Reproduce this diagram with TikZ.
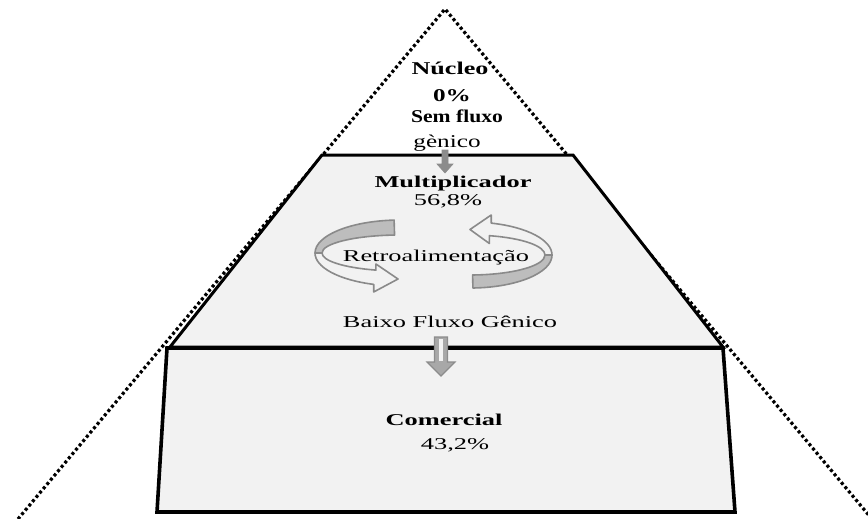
\documentclass[tikz,border=0pt]{standalone}
\usepackage{fontspec}
\setmainfont{Liberation Serif}
\newcommand{\strx}[2]{\scalebox{#1}[1]{#2}}
\definecolor{tierfill}{HTML}{F2F2F2}
\definecolor{bandgray}{HTML}{BDBDBD}
\definecolor{bandedge}{HTML}{8A8A8A}
\definecolor{arrowgray}{HTML}{8C8C8C}
\definecolor{arrowlight}{HTML}{A8A8A8}
\tikzset{
  dotline/.style={line width=3.2pt, dash pattern=on 3pt off 2.6pt, line cap=butt},
  tier/.style={fill=tierfill, draw=black, line width=3pt, line join=miter},
  basetier/.style={fill=tierfill, draw=black, line width=3.6pt, line join=miter},
  lbl/.style={inner sep=0pt, anchor=base, font=\fontsize{16.5}{18}\selectfont},
  toplbl/.style={inner sep=0pt, anchor=base, font=\fontsize{18}{20}\selectfont},
  bandback/.style={fill=bandgray, draw=bandedge, line width=1.6pt, line join=round},
  bandfront/.style={fill=tierfill, draw=bandedge, line width=1.6pt, line join=round},
  blockarrow/.style={fill=arrowgray, draw=arrowgray, line width=0.6pt},
  blockarrowb/.style={fill=arrowlight, draw=arrowgray, line width=1.2pt},
}
\begin{document}
\begin{tikzpicture}[x=1pt,y=-1pt]
\useasboundingbox (0,0) rectangle (868,519);
\clip (0,0) rectangle (868,519);

% dotted pyramid outline
\coordinate (apex) at (445,9);
\coordinate (baseL) at (18,519);
\coordinate (baseR) at (872,519);
\draw[dotline] (baseL) -- (apex) -- (baseR);

% middle tier
\draw[tier] (322,155) -- (573,155) -- (723,347) -- (170,347) -- cycle;
% bottom tier
\draw[basetier] (167,348) -- (723,348) -- (735,512) -- (157,512) -- cycle;

% small arrow core -> multiplier
\draw[blockarrow] (442,150) -- (448,150) -- (448,164) -- (453,164) -- (445,173)
   -- (437,164) -- (442,164) -- cycle;
% arrow multiplier -> commercial
\draw[blockarrowb] (434.5,337) -- (447.5,337) -- (447.5,362) -- (455,362) -- (441,376)
   -- (427,362) -- (434.5,362) -- cycle;
\fill[white!85!arrowlight] (439,339) rectangle (443,361);

% left circular arrow
\draw[bandback] (394.1,220.1) arc[start angle=266, end angle=180, x radius=85, y radius=33]
   -- (322,253) arc[start angle=180, end angle=266, x radius=78, y radius=18] -- cycle;
\draw[bandfront] (315,253) arc[start angle=180, end angle=108, x radius=85, y radius=33]
   -- (373.7,292) -- (398,279) -- (375.9,264)
   -- (375.9,270.1) arc[start angle=108, end angle=180, x radius=78, y radius=18] -- cycle;

% right circular arrow
\draw[bandback] (472.9,288) arc[start angle=88, end angle=0, x radius=82, y radius=33]
   -- (545,255) arc[start angle=0, end angle=88, x radius=75, y radius=20] -- cycle;
\draw[bandfront] (552,255) arc[start angle=0, end angle=-75, x radius=82, y radius=33]
   -- (491.2,215) -- (470,229.5) -- (489.4,243.5)
   -- (489.4,235.7) arc[start angle=-75, end angle=0, x radius=75, y radius=20] -- cycle;

% texts
\node[toplbl] (nucleo) at (450,75) {\strx{1.45}{\bfseries Núcleo}};
\node[toplbl] (zero) at (452,102) {\strx{1.4}{\bfseries 0\%}};
\node[toplbl] (sem) at (457,122) {\strx{1.2}{\bfseries Sem fluxo}};
\node[toplbl] (genico) at (447,147) {\strx{1.4}{gènico}};

\node[lbl] (multi) at (453,187) {\strx{1.6}{\bfseries Multiplicador}};
\node[lbl] (p568) at (448,205) {\strx{1.6}{56,8\%}};
\node[lbl] (retro) at (436,261) {\strx{1.6}{Retroalimentação}};
\node[lbl] (baixo) at (450,327) {\strx{1.6}{Baixo Fluxo Gênico}};
\node[lbl] (comercial) at (444,425) {\strx{1.6}{\bfseries Comercial}};
\node[lbl] (p432) at (455,449) {\strx{1.6}{43,2\%}};
\end{tikzpicture}
\end{document}
